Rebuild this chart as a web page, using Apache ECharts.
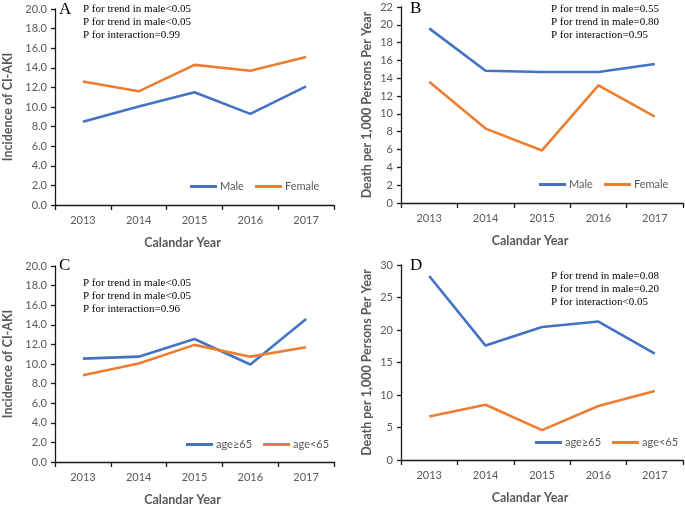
<!DOCTYPE html>
<html><head><meta charset="utf-8">
<script src="https://cdn.jsdelivr.net/npm/echarts@6/dist/echarts.min.js"></script>
<style>html,body{margin:0;padding:0;background:#fff}#c{width:685px;height:507px}</style>
</head><body><div id="c"></div>
<script>
const years = ['2013','2014','2015','2016','2017'];
const incMale = [8.5, 10.05, 11.5, 9.3, 12.1];
const incFemale = [12.6, 11.6, 14.3, 13.7, 15.1];
const deathMale = [19.6, 14.85, 14.7, 14.7, 15.6];
const deathFemale = [13.6, 8.35, 5.9, 13.2, 9.7];
const incOld = [10.55, 10.75, 12.55, 9.95, 14.6];
const incYoung = [8.85, 10.05, 11.95, 10.75, 11.7];
const deathOld = [28.3, 17.6, 20.45, 21.3, 16.35];
const deathYoung = [6.7, 8.5, 4.6, 8.3, 10.6];
const notesA = ['P for trend in male<0.05','P for trend in male<0.05','P for interaction=0.99'];
const notesB = ['P for trend in male=0.55','P for trend in male=0.80','P for interaction=0.95'];
const notesC = ['P for trend in male<0.05','P for trend in male<0.05','P for interaction=0.96'];
const notesD = ['P for trend in male=0.08','P for trend in male=0.20','P for interaction<0.05'];

const BLUE = '#4472C4', ORANGE = '#ED7D31';
const AX = '#1a1a1a', LBL = '#595959';
const SANS = 'Lato';
const SERIF = 'Liberation Serif';

const grids = [
  {left:52, top:9, width:282, height:196},
  {left:401, top:7, width:282, height:196},
  {left:52, top:266, width:282, height:196},
  {left:401, top:265, width:282, height:195}
];
function xAx(i){
  return {type:'category', gridIndex:i, data:years, boundaryGap:true,
    name:'Calandar Year', nameLocation:'middle', nameGap:31,
    nameTextStyle:{fontFamily:SANS, fontWeight:'bold', fontSize:12.5, color:LBL, padding:[0,24,0,0]},
    axisLine:{lineStyle:{color:AX, width:1.3}},
    axisTick:{show:true, alignWithLabel:false, length:5, lineStyle:{color:AX, width:1.3}},
    axisLabel:{fontFamily:SANS, fontSize:11, color:LBL, margin:10},
    splitLine:{show:false}};
}
function yAx(i, max, interval, dec, name, gap){
  return {type:'value', gridIndex:i, min:0, max:max, interval:interval,
    name:name, nameLocation:'middle', nameGap:gap,
    nameTextStyle:{fontFamily:SANS, fontWeight:'bold', fontSize:12.5, color:LBL},
    axisLine:{show:true, lineStyle:{color:AX, width:1.3}},
    axisTick:{show:true, length:4, lineStyle:{color:AX, width:1.3}},
    axisLabel:{fontFamily:SANS, fontSize:11, color:LBL, margin:8,
      formatter: v => v.toFixed(dec)},
    splitLine:{show:false}};
}
function ser(name, data, color, i){
  return {type:'line', name:name, data:data, xAxisIndex:i, yAxisIndex:i,
    symbol:'none', lineStyle:{color:color, width:2.6}, itemStyle:{color:color}};
}
function letter(t, left, top){
  return {text:t, left:left, top:top, padding:0,
    textStyle:{fontFamily:SERIF, fontSize:17, fontWeight:'normal', color:'#000'}};
}
function notes(arr, left, top){
  return {text:arr.join('\n'), left:left, top:top, padding:0,
    textStyle:{fontFamily:SERIF, fontSize:11, lineHeight:12.9, fontWeight:'normal', color:'#000'}};
}
function leg(names, left, top){
  return {data:names, left:left, top:top, padding:0, itemGap:11, itemWidth:27, itemHeight:3,
    icon:'rect', selectedMode:false,
    textStyle:{fontFamily:SANS, fontSize:11, color:LBL, padding:[0,0,0,-2]}};
}

const option = {
  animation:false,
  backgroundColor:'#fff',
  grid: grids,
  xAxis:[xAx(0), xAx(1), xAx(2), xAx(3)],
  yAxis:[
    yAx(0, 20, 2, 1, 'Incidence of CI-AKI', 41),
    yAx(1, 22, 2, 0, 'Death per 1,000 Persons Per Year', 28),
    yAx(2, 20, 2, 1, 'Incidence of CI-AKI', 41),
    yAx(3, 30, 5, 0, 'Death per 1,000 Persons Per Year', 28)
  ],
  title:[
    letter('A', 59, 1), notes(notesA, 83, 3),
    letter('B', 410, 0), notes(notesB, 551, 3),
    letter('C', 59, 257), notes(notesC, 83, 277),
    letter('D', 410, 257), notes(notesD, 551, 270)
  ],
  legend:[
    leg(['Male','Female'], 190, 181),
    leg(['age≥65','age<65'], 186, 439),
    leg(['Male','Female'], 539, 179),
    leg(['age≥65','age<65'], 535, 437)
  ],
  series:[
    ser('Male', incMale, BLUE, 0), ser('Female', incFemale, ORANGE, 0),
    ser('Male', deathMale, BLUE, 1), ser('Female', deathFemale, ORANGE, 1),
    ser('age≥65', incOld, BLUE, 2), ser('age<65', incYoung, ORANGE, 2),
    ser('age≥65', deathOld, BLUE, 3), ser('age<65', deathYoung, ORANGE, 3)
  ]
};
const chart = echarts.init(document.getElementById('c'), null, {renderer:'canvas'});
chart.setOption(option);
</script></body></html>
